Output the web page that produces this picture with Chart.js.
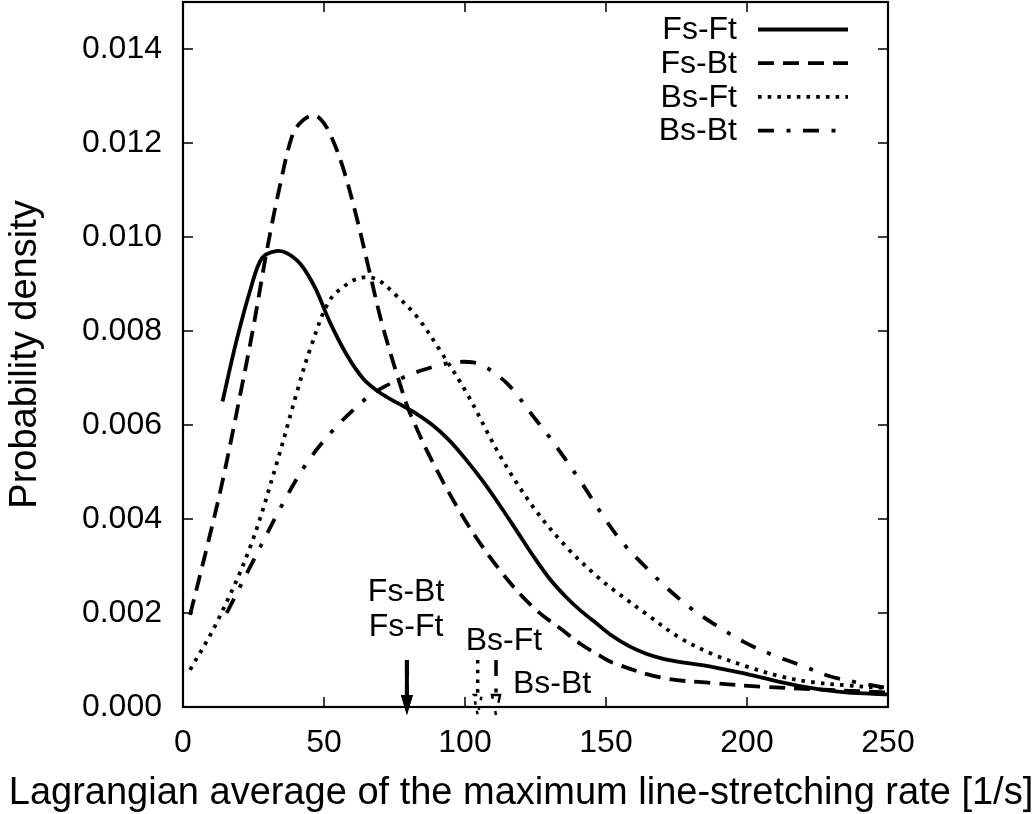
<!DOCTYPE html>
<html>
<head>
<meta charset="utf-8">
<title>Probability density</title>
<script src="https://cdn.jsdelivr.net/npm/chart.js@4.4.1/dist/chart.umd.min.js"></script>
<style>
  html, body { margin: 0; padding: 0; background: #fff; }
  canvas { display: block; }
</style>
</head>
<body>
<canvas id="chart" width="1036" height="814"></canvas>
<script>
// series names (legend order)
const seriesNames = ['Fs-Ft', 'Fs-Bt', 'Bs-Ft', 'Bs-Bt'];

// Fs-Ft (solid)
const fsFtX = [14, 19, 24, 28, 33, 37, 42, 47, 52, 58, 64, 70, 76, 82, 88, 94, 100, 106, 112, 118, 124, 130, 136, 141, 147, 152, 158, 164, 170, 176, 188, 200, 212, 223, 235, 250];
const fsFtY = [0.0065, 0.0078, 0.0089, 0.00955, 0.0097, 0.00965, 0.0094, 0.0089, 0.0082, 0.0075, 0.00698, 0.00668, 0.00647, 0.00627, 0.00602, 0.0057, 0.00529, 0.00483, 0.00432, 0.00378, 0.00323, 0.00273, 0.00233, 0.00205, 0.00176, 0.00152, 0.0013, 0.00114, 0.00103, 0.00096, 0.00085, 0.0007, 0.00053, 0.0004, 0.00031, 0.00027];

// Fs-Bt (dashed)
const fsBtX = [2.5, 8.5, 14, 20.8, 25, 29.7, 34.4, 39, 42.5, 45.6, 48.6, 52.1, 56.7, 61.6, 66.3, 70.9, 78, 80.5, 88.7, 100.7, 112.4, 124, 136, 141, 147, 152.5, 170, 188, 205.7, 223, 250];
const fsBtY = [0.00196, 0.0034, 0.0048, 0.0068, 0.0081, 0.0097, 0.0111, 0.0122, 0.01248, 0.01258, 0.01252, 0.0122, 0.01148, 0.01041, 0.00922, 0.00808, 0.00667, 0.00625, 0.00519, 0.00391, 0.00291, 0.00213, 0.00157, 0.00134, 0.00112, 0.00094, 0.00062, 0.00051, 0.00043, 0.00038, 0.00031];

// Bs-Ft (dotted)
const bsFtX = [2.5, 12, 23.8, 33.3, 40.4, 45, 52, 59, 64, 69, 75, 83, 91, 100.7, 112.4, 124, 136, 147, 152.5, 164.5, 176, 188, 200, 212, 223, 235, 250];
const bsFtY = [0.00079, 0.0018, 0.0034, 0.0052, 0.0067, 0.0076, 0.00865, 0.00903, 0.00914, 0.00909, 0.00879, 0.0083, 0.0076, 0.00667, 0.00535, 0.00427, 0.0034, 0.00277, 0.0025, 0.00197, 0.00148, 0.00112, 0.00086, 0.00065, 0.00053, 0.00046, 0.0004];

// Bs-Bt (dash-dot)
const bsBtX = [15.5, 23.8, 35.5, 43.9, 53.2, 65, 70, 76, 80, 85, 92, 97, 103, 107, 111, 115, 118.5, 124, 130, 141, 150, 156.7, 164, 172, 181, 189, 199, 209, 219, 229, 240, 250];
const bsBtY = [0.002, 0.00298, 0.00434, 0.00519, 0.00589, 0.00657, 0.00677, 0.00695, 0.00706, 0.00717, 0.00729, 0.00734, 0.00733, 0.00724, 0.00708, 0.00688, 0.00664, 0.0062, 0.00574, 0.0048, 0.00397, 0.00344, 0.00298, 0.00251, 0.00206, 0.00174, 0.00138, 0.00111, 0.00089, 0.00066, 0.00051, 0.0004];

// mean values marked with arrows on the x axis
const meanX = [79.4, 79.4, 104.5, 111];

// tick labels
const xTicks = [0, 50, 100, 150, 200, 250];
const yTicks = [0, 0.002, 0.004, 0.006, 0.008, 0.010, 0.012, 0.014];

const dashes = [[], [16, 9], [3.6, 6.1], [16, 12.5, 4, 12.5]];
const FONT = '"Liberation Sans", Arial, Helvetica, sans-serif';

const zip = (xs, ys) => xs.map((x, i) => ({ x: x, y: ys[i] }));
const seriesData = [zip(fsFtX, fsFtY), zip(fsBtX, fsBtY), zip(bsFtX, bsFtY), zip(bsBtX, bsBtY)];

// where the mean labels sit (data coords, text centre)
const meanLabels = [
    { text: 'Fs-Bt', x: 79.1, y: 0.00247 },
    { text: 'Fs-Ft', x: 79.1, y: 0.00172 },
    { text: 'Bs-Ft', x: 113.8, y: 0.00142 },
    { text: 'Bs-Bt', x: 130.9, y: 0.00051 }
];

// frame + inward ticks, gnuplot style
const framePlugin = {
    id: 'frame',
    beforeDatasetsDraw(chart) {
        const { ctx, chartArea: a, scales: { x, y } } = chart;
        ctx.save();
        ctx.strokeStyle = '#000';
        ctx.lineWidth = 1.5;
        ctx.beginPath();
        xTicks.forEach(v => {
            const px = x.getPixelForValue(v);
            ctx.moveTo(px, a.bottom); ctx.lineTo(px, a.bottom - 10);
            ctx.moveTo(px, a.top); ctx.lineTo(px, a.top + 10);
        });
        yTicks.forEach(v => {
            const py = y.getPixelForValue(v);
            ctx.moveTo(a.left, py); ctx.lineTo(a.left + 10, py);
            ctx.moveTo(a.right, py); ctx.lineTo(a.right - 10, py);
        });
        ctx.stroke();
        ctx.lineWidth = 2.2;
        ctx.strokeRect(a.left, a.top, a.right - a.left, a.bottom - a.top);
        ctx.restore();
    },
    afterDraw(chart) {
        const { ctx, scales: { x, y } } = chart;
        ctx.save();
        ctx.fillStyle = '#000';
        ctx.strokeStyle = '#000';

        // legend, top right
        ctx.font = '32px ' + FONT;
        ctx.textAlign = 'right';
        ctx.textBaseline = 'middle';
        seriesNames.forEach((name, i) => {
            const ry = 29.5 + i * 33.7;
            ctx.fillText(name, 737, ry + 1);
            ctx.lineWidth = 3.8;
            ctx.lineCap = 'butt';
            ctx.setLineDash(dashes[i]);
            ctx.beginPath();
            ctx.moveTo(758, ry); ctx.lineTo(848, ry);
            ctx.stroke();
        });
        ctx.setLineDash([]);

        // arrows at the means
        const y0 = y.getPixelForValue(0.001);
        const y1 = y.getPixelForValue(-0.00017);
        [1, 0, 2, 3].forEach(i => {
            const px = x.getPixelForValue(meanX[i]);
            ctx.lineWidth = i < 2 ? 4 : 3.5;
            ctx.setLineDash(dashes[i]);
            ctx.beginPath();
            ctx.moveTo(px, y0); ctx.lineTo(px, y1 - 18);
            ctx.stroke();
            ctx.beginPath();
            ctx.moveTo(px - (i < 2 ? 6 : 4), y1 - 20);
            ctx.lineTo(px + (i < 2 ? 6 : 4), y1 - 20);
            ctx.lineTo(px, y1);
            ctx.closePath();
            if (i < 2) {
                ctx.fill();
            } else {
                ctx.lineWidth = 2.5;
                ctx.stroke();
            }
        });
        ctx.setLineDash([]);

        ctx.textAlign = 'center';
        ctx.textBaseline = 'middle';
        meanLabels.forEach(l => {
            ctx.fillText(l.text, x.getPixelForValue(l.x), y.getPixelForValue(l.y) + 1);
        });

        // x axis title (wider than the plot, so drawn here)
        ctx.font = '38px ' + FONT;
        ctx.textBaseline = 'alphabetic';
        ctx.fillText('Lagrangian average of the maximum line-stretching rate [1/s]', 521, 803.5);
        ctx.restore();
    }
};

new Chart(document.getElementById('chart'), {
    type: 'line',
    data: {
        datasets: seriesNames.map((name, i) => ({
            label: name,
            data: seriesData[i],
            borderColor: '#000',
            borderWidth: 3.8,
            borderDash: dashes[i],
            borderCapStyle: 'butt',
            borderJoinStyle: 'round',
            pointRadius: 0,
            fill: false,
            tension: 0.35
        }))
    },
    options: {
        responsive: false,
        animation: false,
        layout: { padding: { top: 2, right: 148, left: 0, bottom: 0 } },
        plugins: {
            legend: { display: false },
            tooltip: { enabled: false }
        },
        scales: {
            x: {
                type: 'linear',
                min: 0,
                max: 250,
                grid: { display: false, drawTicks: false },
                border: { display: false },
                afterBuildTicks: s => { s.ticks = xTicks.map(v => ({ value: v })); },
                afterFit: s => {
                    s.height = 107;
                    s.paddingLeft = 0; s.paddingRight = 0;
                },
                ticks: {
                    color: '#000',
                    padding: 17,
                    maxRotation: 0,
                    autoSkip: false,
                    font: { family: FONT, size: 32 },
                    callback: v => String(v)
                }
            },
            y: {
                type: 'linear',
                min: 0,
                max: 0.015,
                grid: { display: false, drawTicks: false },
                border: { display: false },
                afterBuildTicks: s => { s.ticks = yTicks.map(v => ({ value: v })); },
                afterFit: s => {
                    s.width = 183;
                    s.paddingTop = 0; s.paddingBottom = 0;
                },
                ticks: {
                    color: '#000',
                    padding: 21,
                    autoSkip: false,
                    font: { family: FONT, size: 32 },
                    callback: v => v.toFixed(3)
                },
                title: {
                    display: true,
                    text: 'Probability density',
                    color: '#000',
                    padding: { top: 3, bottom: 0 },
                    font: { family: FONT, size: 38 }
                }
            }
        }
    },
    plugins: [framePlugin]
});
</script>
</body>
</html>
